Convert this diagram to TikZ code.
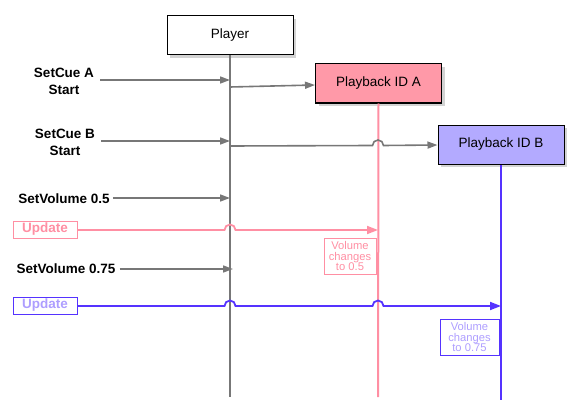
\documentclass[tikz,border=0pt]{standalone}
\usepackage{fontspec}
\setmainfont{Liberation Sans}
\usetikzlibrary{arrows.meta,shadows}
\definecolor{lgray}{HTML}{777777}
\definecolor{pinkl}{HTML}{FF8FA3}
\definecolor{pinkf}{HTML}{FF99A8}
\definecolor{bluel}{HTML}{5533FF}
\definecolor{bluef}{HTML}{B3AAFF}
\definecolor{bluet}{HTML}{AE9EFF}
\tikzset{
  actor/.style={draw=black, line width=1pt, inner sep=0pt, minimum width=126pt, minimum height=39pt,
    font=\fontsize{13.5}{15}\selectfont, drop shadow={shadow xshift=3pt, shadow yshift=-3pt, opacity=0.35}},
  cmd/.style={font=\fontsize{13.5}{17}\selectfont\bfseries, align=center, inner sep=0pt},
  upd/.style={draw, line width=1pt, inner sep=0pt, minimum width=64pt, minimum height=17pt,
    font=\fontsize{13.5}{15}\selectfont\bfseries},
  note/.style={draw, line width=1pt, inner sep=0pt, align=center,
    font=\fontsize{11.2}{10.9}\selectfont},
  garrow/.style={lgray, line width=1.6pt, -{Triangle[length=10pt,width=7pt]}},
  life/.style={line width=2pt},
}
\begin{document}
\begin{tikzpicture}[x=1pt,y=-1pt]
\useasboundingbox (0,0) rectangle (584,412);
% actors
\node[actor, fill=white] (player) at (230,35.5) {Player};
\node[actor, fill=pinkf] (pba) at (378.5,83.5) {Playback ID A};
\node[actor, fill=bluef] (pbb) at (501,144.5) {Playback ID B};
% lifeline ends
\coordinate (playerEnd) at (230,397);
\coordinate (pbaEnd) at (378,397);
\coordinate (pbbEnd) at (501,400);
\draw[life, lgray] (player.south) -- (playerEnd);
\draw[life, pinkl] (pba.south) -- (pbaEnd);
\draw[line width=2.6pt, bluel] (pbb.south) -- (pbbEnd);
% commands
\node[cmd] (cueA) at (64,81.5) {SetCue A\\Start};
\node[cmd] (cueB) at (65,142.5) {SetCue B\\Start};
\node[cmd] (vol5) at (64,199) {SetVolume 0.5};
\node[cmd] (vol75) at (66,269) {SetVolume 0.75};
\coordinate (cueAin) at (230,80);
\coordinate (cueBin) at (230,141);
\coordinate (vol5in) at (230,198);
\coordinate (vol75in) at (233,269);
\draw[garrow] (100,80) -- (cueAin);
\draw[garrow] (101,141) -- (cueBin);
\draw[garrow] (vol5.east) ++(3,-1) -- (vol5in);
\draw[garrow] (vol75.east) ++(4,0) -- (vol75in);
% player to playback
\coordinate (pAout) at (230,87);
\coordinate (pBout) at (230,146);
\draw[garrow] (pAout) -- (pba.west |- 0,85);
\draw[garrow] (pBout) -- (372.5,145.5) arc[start angle=180,end angle=0,radius=5.5pt] -- (pbb.west |- 0,145);
% updates
\node[upd, draw=pinkl, text=pinkl] (updA) at (45,229.5) {Update};
\node[upd, draw=bluel, text=bluet] (updB) at (45,305.5) {Update};
\coordinate (updAend) at (378,230);
\coordinate (updBend) at (501,306);
\draw[pinkl, line width=1.8pt, -{Triangle[length=11pt,width=8pt]}]
  (updA.east |- 0,230) -- (224.5,230) arc[start angle=180,end angle=0,radius=5.5pt] -- (updAend);
\draw[bluel, line width=1.8pt, -{Triangle[length=11pt,width=8pt]}]
  (updB.east |- 0,306) -- (224.5,306) arc[start angle=180,end angle=0,radius=5.5pt]
  -- (372.5,306) arc[start angle=180,end angle=0,radius=5.5pt] -- (updBend);
% notes
\node[note, draw=pinkl, text=pinkl, minimum width=52pt, minimum height=36pt] (noteA) at (350,256) {Volume\\changes\\to 0.5};
\node[note, draw=bluel, text=bluet, minimum width=59pt, minimum height=36pt] (noteB) at (469.5,337) {Volume\\changes\\to 0.75};
\end{tikzpicture}
\end{document}
